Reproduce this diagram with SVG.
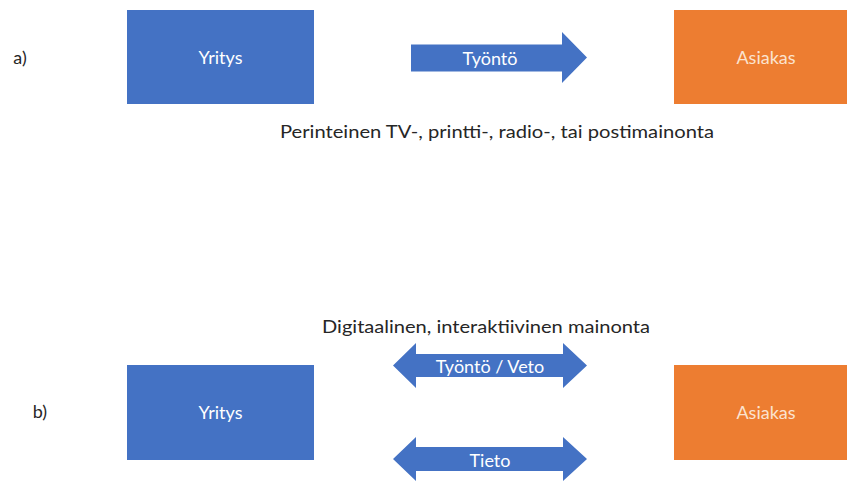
<svg xmlns="http://www.w3.org/2000/svg" width="847" height="482" viewBox="0 0 847 482">
  <style>
    .bg { fill: #ffffff; }
    .firm { fill: #4472C4; }
    .cust { fill: #ED7D31; }
    .arrow { fill: #4472C4; }
    .lbl { font-family: Lato, "Open Sans", "Liberation Sans", sans-serif; font-size: 18px; fill: #ffffff; text-anchor: middle; dominant-baseline: central; }
    .cust-lbl { fill: #fbe3cf; }
    .cap { font-family: Lato, "Open Sans", "Liberation Sans", sans-serif; font-size: 17px; fill: #262626; text-anchor: middle; dominant-baseline: central; }
    .tag { font-size: 18px; }
  </style>
  <rect class="bg" x="0" y="0" width="847" height="482"/>

  <!-- part a: one-way push -->
  <text class="cap tag" x="20" y="57">a)</text>
  <g id="yritys-a">
    <rect class="firm" x="127" y="10" width="187" height="94"/>
    <text class="lbl" x="220.5" y="57">Yritys</text>
  </g>
  <g id="asiakas-a">
    <rect class="cust" x="674" y="10" width="173" height="94"/>
    <text class="lbl cust-lbl" x="766" y="57">Asiakas</text>
  </g>
  <g id="connectors-a">
    <path class="arrow" d="M411,44.5 H562 V32 L587,57.5 L562,83 V71.5 H411 Z"/>
    <text class="lbl" x="490" y="58">Työntö</text>
  </g>
  <text class="cap" x="497" y="131" textLength="434" lengthAdjust="spacingAndGlyphs">Perinteinen TV-, printti-, radio-, tai postimainonta</text>

  <!-- part b: two-way exchange -->
  <text class="cap" x="486" y="326" textLength="328" lengthAdjust="spacingAndGlyphs">Digitaalinen, interaktiivinen mainonta</text>
  <text class="cap tag" x="40" y="411">b)</text>
  <g id="yritys-b">
    <rect class="firm" x="127" y="365" width="187" height="95"/>
    <text class="lbl" x="220.5" y="412">Yritys</text>
  </g>
  <g id="asiakas-b">
    <rect class="cust" x="674" y="365" width="173" height="95"/>
    <text class="lbl cust-lbl" x="766" y="412">Asiakas</text>
  </g>
  <g id="connectors-b">
    <path class="arrow" d="M393,365.5 L416,343 V354 H563 V343 L587,365.5 L563,388 V377 H416 V388 Z"/>
    <text class="lbl" x="490" y="366">Työntö / Veto</text>
    <path class="arrow" d="M393,459 L416,437 V447 H563 V437 L587,459 L563,481 V471 H416 V481 Z"/>
    <text class="lbl" x="490" y="460">Tieto</text>
  </g>
</svg>
